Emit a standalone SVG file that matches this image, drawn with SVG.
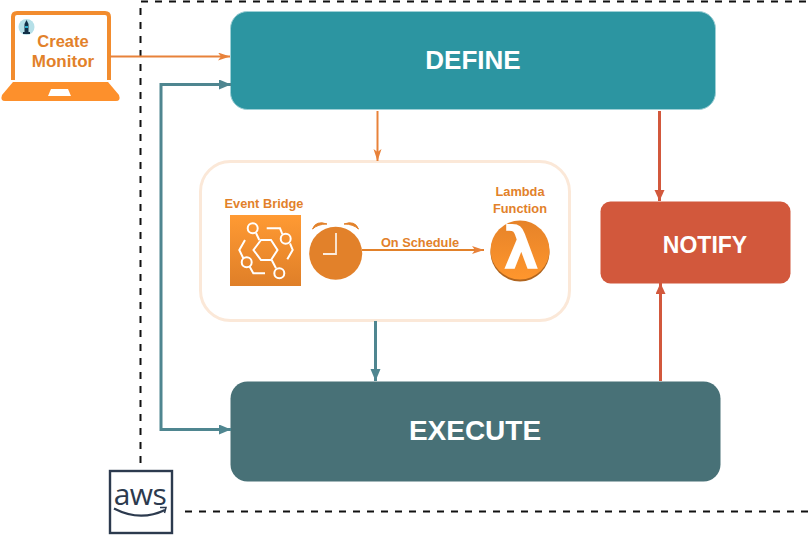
<svg xmlns="http://www.w3.org/2000/svg" width="812" height="542" viewBox="0 0 812 542">
<style>
text{font-family:"Liberation Sans",Arial,sans-serif;font-weight:700;text-anchor:middle}
.big{fill:#fff}
.lab{fill:#e2812a}
.small{font-size:12.800px}
.con{fill:none}
.wl{fill:none;stroke:#fff;stroke-width:2}
</style>
<defs>
<marker id="ao" markerUnits="userSpaceOnUse" markerWidth="14" markerHeight="10" refX="12" refY="4" orient="auto"><path d="M0 0L12 4L0 8L3 4Z" fill="#e8823a"/></marker>
<marker id="at" markerUnits="userSpaceOnUse" markerWidth="14" markerHeight="12" refX="12" refY="5" orient="auto-start-reverse"><path d="M0 0L12 5L0 10Z" fill="#4f8690"/></marker>
<marker id="ar" markerUnits="userSpaceOnUse" markerWidth="14" markerHeight="12" refX="11" refY="5" orient="auto"><path d="M0 0L11 5L0 10Z" fill="#d2583c"/></marker>
<linearGradient id="ebg" x1="0" y1="0" x2="0" y2="1"><stop offset="0" stop-color="#ff9a33"/><stop offset="1" stop-color="#df7f28"/></linearGradient>
<linearGradient id="lbg" x1="0" y1="0" x2="0" y2="1"><stop offset="0" stop-color="#e68329"/><stop offset="1" stop-color="#ff962d"/></linearGradient>
</defs>

<g id="boundary">
<path d="M140.500 463V1.500H812M185 511.500H812" fill="none" stroke="#111" stroke-width="2" stroke-dasharray="7 7"/>
</g>

<g id="aws">
<rect x="110" y="471" width="62" height="62" fill="#fff" stroke="#2c3a4e" stroke-width="2.400"/>
<text x="140" y="505" style="font-family:'Open Sans','Liberation Sans',sans-serif;font-weight:400;font-size:30px;letter-spacing:-.5px" fill="#2c3a4e">aws</text>
<path d="M114 508.500Q140 522 165 510" fill="none" stroke="#2c3a4e" stroke-width="2.200"/>
<path d="M160 507.500L166 507.500L164.500 513" fill="none" stroke="#2c3a4e" stroke-width="1.500"/>
</g>

<g id="create-monitor">
<path d="M13 80V17Q13 13 17 13H105Q109 13 109 17V80" fill="#fff" stroke="#f28c2e" stroke-width="4"/>
<path d="M13 82H108L119 95Q121 101 116 101H5Q0 101 2 95Z" fill="#fd902c"/>
<path d="M51 89H68L71 96H48Z" fill="#fff"/>
<circle cx="26.500" cy="27" r="8" fill="#b6e0e8"/>
<path d="M26.500 20L28.500 24V32H30V34H23V32H24.500V24Z" fill="#123048"/>
<rect x="25" y="26" width="3" height="2" fill="#2bb0d0"/>
<text x="63" y="47" class="lab" font-size="16.500">Create</text>
<text x="63" y="67" class="lab" font-size="17">Monitor</text>
</g>

<g id="define">
<rect x="230.500" y="11.500" width="485" height="98" rx="17" fill="#2c95a1" stroke="#9fd0d6"/>
<text x="473" y="69" class="big" font-size="26">DEFINE</text>
</g>

<g id="schedule-group">
<rect x="200.500" y="161.500" width="369" height="159" rx="30" fill="#fff" stroke="#fbe8d8" stroke-width="3"/>
</g>

<g id="event-bridge">
<text x="264" y="208" class="lab small">Event Bridge</text>
<rect x="230" y="215" width="71" height="71" fill="url(#ebg)"/>
<circle cx="252.700" cy="228.300" r="5" class="wl"/>
<circle cx="285.700" cy="238.700" r="5" class="wl"/>
<circle cx="246.700" cy="262.300" r="5" class="wl"/>
<circle cx="279.300" cy="273.300" r="5" class="wl"/>
<path class="wl" d="M261 240H271L277.500 250L271 260H261L253.500 250Z"/>
<path class="wl" d="M256 233L259.300 240M271.700 260L276 268.300M266.700 228.300H280L282.300 234M290 243.300L292.700 250L287.300 259.300M245 240L239.300 250L243.300 258.300M249.300 266L253.300 273.300H265"/>
</g>

<g id="clock">
<circle cx="335.700" cy="253.300" r="26.500" fill="#e2812a"/>
<path d="M312.500 229Q316 220 327 224Q318 224 312.500 229ZM358.500 229Q355 220 344 224Q353 224 358.500 229Z" fill="#e2812a" stroke="#e2812a"/>
<path d="M336 233V254H323" fill="none" stroke="#fff" stroke-opacity=".85" stroke-width="1.800"/>
</g>

<g id="on-schedule">
<text x="420" y="246.500" class="lab small">On Schedule</text>
</g>

<g id="lambda">
<text x="520" y="196" class="lab small">Lambda</text>
<text x="520" y="212.500" class="lab small">Function</text>
<circle cx="520" cy="252" r="29.500" fill="#b0651f"/>
<circle cx="520" cy="250" r="29.500" fill="url(#lbg)"/>
<text x="521" y="269" style="font-family:'DejaVu Sans',sans-serif;font-size:58px" fill="#fff">λ</text>
</g>

<g id="notify">
<rect x="600.500" y="201.500" width="190" height="82" rx="10" fill="#d2583c"/>
<text x="705" y="253" class="big" font-size="23">NOTIFY</text>
</g>

<g id="execute">
<rect x="230.500" y="381.500" width="490" height="100" rx="17" fill="#487177"/>
<text x="475" y="440" class="big" font-size="28">EXECUTE</text>
</g>

<g id="connectors">
<path class="con" d="M110 56.500H230" stroke="#e8823a" stroke-width="2" marker-end="url(#ao)"/>
<path class="con" d="M231 84.500H161V429.500H231" stroke="#4f8690" stroke-width="3" marker-start="url(#at)" marker-end="url(#at)"/>
<path class="con" d="M377.500 111V161" stroke="#e8823a" stroke-width="2" marker-end="url(#ao)"/>
<path class="con" d="M375.500 321V381" stroke="#4f8690" stroke-width="3" marker-end="url(#at)"/>
<path class="con" d="M659.500 111V201" stroke="#d2583c" stroke-width="3" marker-end="url(#ar)"/>
<path class="con" d="M660.500 381V283" stroke="#d2583c" stroke-width="3" marker-end="url(#ar)"/>
<path class="con" d="M362 250H484" stroke="#e2812a" stroke-width="2" marker-end="url(#ao)"/>
</g>
</svg>
